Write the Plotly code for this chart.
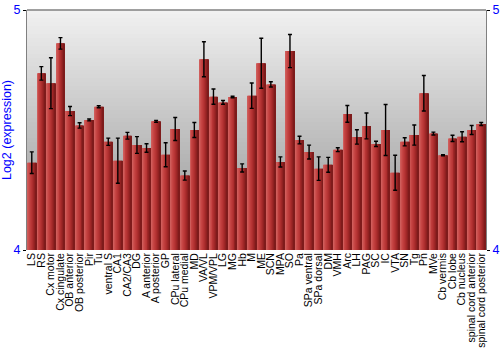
import plotly.graph_objects as go

categories = ["LS", "RS", "Cx motor", "Cx cingulate", "OB anterior", "OB posterior", "Pir", "Tu",
              "ventral S", "CA1", "CA2/CA3", "DG", "A anterior", "A posterior", "GP", "CPu lateral",
              "CPu medial", "MD", "VA/VL", "VPM/VPL", "LG", "MG", "Hb", "M", "ME", "SCN", "MPA", "SO",
              "Pa", "SPa ventral", "SPa dorsal", "DM", "VMH", "Arc", "LH", "PAG", "SC", "IC", "VTA",
              "SN", "Tg", "Pn", "MVe", "Cb vermis", "Cb lobe", "Cb nucleus", "spinal cord anterior",
              "spinal cord posterior"]

values = [4.364, 4.736, 4.695, 4.861, 4.579, 4.519, 4.542, 4.597,
          4.451, 4.372, 4.476, 4.4375, 4.425, 4.536, 4.397, 4.504,
          4.310, 4.500, 4.795, 4.639, 4.615, 4.6375, 4.342, 4.643, 4.778, 4.690, 4.367, 4.829,
          4.458, 4.408, 4.339, 4.355, 4.418, 4.567, 4.471, 4.517, 4.442, 4.500, 4.322,
          4.451, 4.479, 4.653, 4.485, 4.395, 4.465, 4.472, 4.500,
          4.525]

errors = [0.045, 0.028, 0.106, 0.024, 0.019, 0.011, 0.004, 0.004,
          0.015, 0.094, 0.014, 0.035, 0.018, 0.004, 0.050, 0.048,
          0.019, 0.031, 0.073, 0.032, 0.008, 0.003, 0.017, 0.053, 0.104, 0.011, 0.021, 0.069,
          0.016, 0.029, 0.049, 0.031, 0.008, 0.035, 0.030, 0.054, 0.011, 0.106, 0.073,
          0.017, 0.042, 0.074, 0.006, 0.002, 0.013, 0.021, 0.019,
          0.006]

y_ticks = [4, 5]
y_title = "Log2 (expression)"

fig = go.Figure()

# background vertical gradient
nbg = 60
for k in range(nbg):
    g = int(145 + (242 - 145) * (k + 0.5) / nbg)
    fig.add_shape(type="rect", xref="paper", yref="paper", x0=0, x1=1,
                  y0=k / nbg, y1=(k + 1) / nbg, fillcolor=f"rgb({g},{g},{g})",
                  line_width=0, layer="below")

# gradient bars: several slices per bar
bar_w = 0.9
nsl = 9
stops = [(0.0, (210, 100, 98)), (0.25, (200, 72, 70)), (0.55, (180, 50, 50)), (0.8, (150, 35, 35)), (1.0, (118, 24, 24))]

def col(t):
    for i in range(len(stops) - 1):
        a, ca = stops[i]
        b, cb = stops[i + 1]
        if a <= t <= b:
            f = (t - a) / (b - a)
            return "rgb(%d,%d,%d)" % tuple(int(ca[j] + (cb[j] - ca[j]) * f) for j in range(3))
    return "rgb(118,24,24)"

sw = bar_w / nsl
for k in range(nsl):
    fig.add_trace(go.Bar(
        x=categories, y=values, width=sw * 1.02, offset=-bar_w / 2 + k * sw,
        marker=dict(color=col((k + 0.5) / nsl), line_width=0),
        showlegend=False, hoverinfo="skip"))

fig.add_trace(go.Scatter(
    x=categories, y=values, mode="markers", marker=dict(opacity=0, size=1),
    error_y=dict(type="data", array=errors, visible=True, color="black", thickness=1.4, width=2),
    showlegend=False))

fig.add_trace(go.Scatter(x=categories, y=values, yaxis="y2", mode="markers",
                         marker=dict(opacity=0, size=1), showlegend=False, hoverinfo="skip"))

fig.update_layout(
    width=500, height=350,
    margin=dict(l=27, r=14, t=10, b=100),
    paper_bgcolor="white", plot_bgcolor="rgba(0,0,0,0)",
    barmode="overlay", bargap=0.1,
    font=dict(family="Liberation Sans, Arial, sans-serif"),
    xaxis=dict(type="category", tickangle=-90, tickfont=dict(size=10.5, color="black"),
               tickmode="array", tickvals=categories, ticktext=categories, automargin=False,
               showgrid=False, ticks="", showline=False, range=[-0.5, len(categories) - 0.5]),
    yaxis=dict(range=[4, 5], tickvals=y_ticks, ticktext=[str(v) for v in y_ticks], automargin=False,
               tickfont=dict(size=12.5, color="blue"), showgrid=False, zeroline=False,
               ticks="outside", ticklen=3, tickcolor="black", showline=True, linecolor="#808080",
               mirror=False, title=dict(text=y_title, font=dict(size=12.5, color="blue"), standoff=3)),
    yaxis2=dict(range=[4, 5], overlaying="y", side="right", tickvals=y_ticks, automargin=False,
                ticktext=[str(v) for v in y_ticks], tickfont=dict(size=12.5, color="blue"),
                showgrid=False, zeroline=False, ticks="outside", ticklen=3, tickcolor="black",
                showline=True, linecolor="#808080"),
)

fig.add_shape(type="line", xref="paper", yref="paper", x0=0, x1=1, y0=1, y1=1,
              line=dict(color="#808080", width=1.5))

fig.write_html("out.html")
